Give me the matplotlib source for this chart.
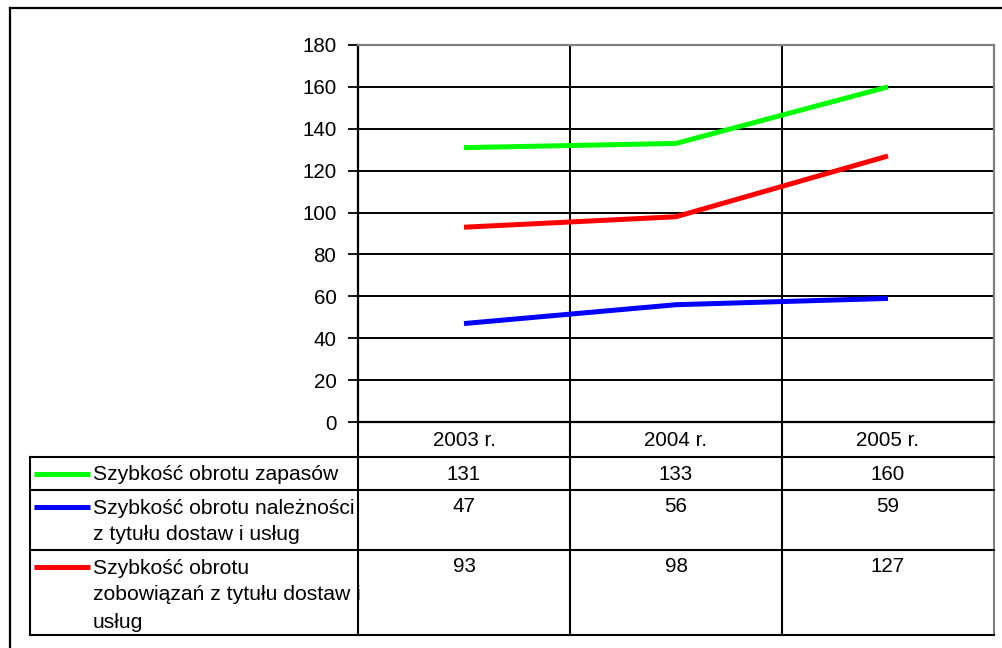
import numpy as np
import matplotlib.pyplot as plt

plt.rcParams['font.family'] = ['Liberation Sans', 'DejaVu Sans']

# turnover ratios, days
years = ['2003 r.', '2004 r.', '2005 r.']
zapasy = [131, 133, 160]
naleznosci = [47, 56, 59]
zobowiazania = [93, 98, 127]

series_labels = [
    ['Szybkość obrotu zapasów'],
    ['Szybkość obrotu należności', 'z tytułu dostaw i usług'],
    ['Szybkość obrotu', 'zobowiązań z tytułu dostaw i', 'usług'],
]
series_values = [zapasy, naleznosci, zobowiazania]
colors = ['#00ff00', '#0000ff', '#ff0000']

W, H = 1002, 648
fig = plt.figure(figsize=(W / 100, H / 100), dpi=100)

# table / frame layer in pixel coordinates
tab = fig.add_axes([0, 0, 1, 1])
tab.set_xlim(0, W)
tab.set_ylim(H, 0)
tab.axis('off')

# plot area
x0, x1, y0, y1 = 358, 994, 45, 422
ax = fig.add_axes([x0 / W, 1 - y1 / H, (x1 - x0) / W, (y1 - y0) / H])
xs = np.arange(len(years)) + 0.5
for vals, c in zip(series_values, colors):
    ax.plot(xs, vals, color=c, lw=3.6, solid_capstyle='butt', zorder=3)
ax.set_xlim(0, len(years))
ax.set_ylim(0, 180)
ax.set_yticks(np.arange(0, 181, 20))
ax.set_xticks([])
ax.tick_params(axis='y', length=7, width=1.3, pad=8.5, labelsize=14.8)
for y in range(20, 180, 20):
    ax.axhline(y, color='black', lw=1.4, zorder=1)
for x in range(1, len(years)):
    ax.axvline(x, color='black', lw=1.4, zorder=1)
ax.spines['left'].set_linewidth(1.6)
ax.spines['bottom'].set_linewidth(1.6)
for s in ['top', 'right']:
    ax.spines[s].set_color('#808080')
    ax.spines[s].set_linewidth(1.6)

# outer frame
tab.plot([10, W + 5], [8, 8], color='black', lw=1.6)
tab.plot([10, 10], [8, H + 5], color='black', lw=1.6)

# data table under the chart
cols = [358, 570, 782, 994]
rows = [422, 457, 490, 550, 635]
for i, cx in enumerate(cols):
    tab.plot([cx, cx], [rows[0], rows[-1]], lw=1.5,
             color='#808080' if i == len(cols) - 1 else 'black')
tab.plot([30, 30], [rows[1], rows[-1]], color='black', lw=1.5)
for ry in rows[1:]:
    tab.plot([30, cols[-1]], [ry, ry], color='black', lw=1.5)

for j, yr in enumerate(years):
    tab.text((cols[j] + cols[j + 1]) / 2, (rows[0] + rows[1]) / 2 + 1, yr,
             ha='center', va='center', fontsize=14.8)

line_h = 27
for i, (lines, vals, c) in enumerate(zip(series_labels, series_values, colors)):
    top = rows[i + 1] + 17
    tab.plot([34, 90], [top, top], color=c, lw=3.6, solid_capstyle='butt')
    for k, t in enumerate(lines):
        tab.text(93, top + 1 + k * line_h, t, ha='left', va='center',
                 fontsize=15.2)
    for j, v in enumerate(vals):
        tab.text((cols[j] + cols[j + 1]) / 2, top, str(v),
                 ha='center', va='center', fontsize=14.8)

fig.savefig('out.png', dpi=100)
